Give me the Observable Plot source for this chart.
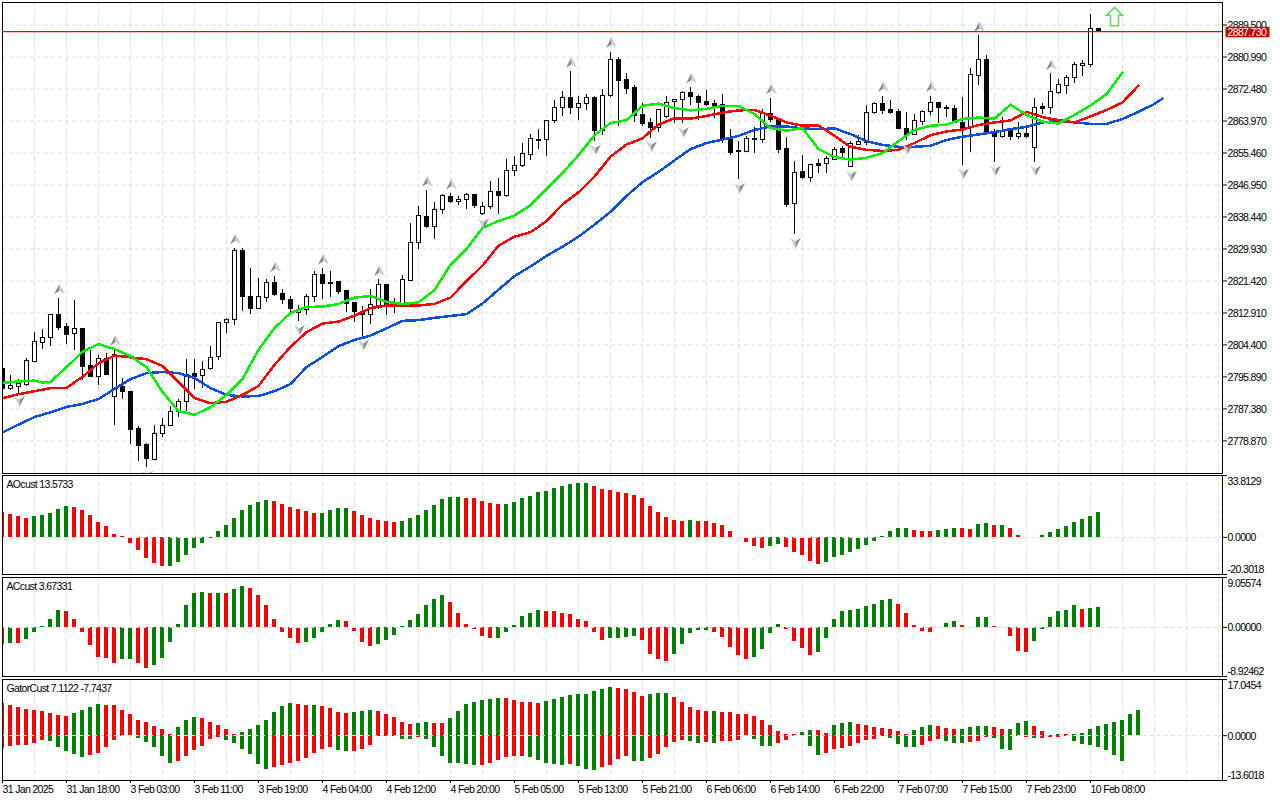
<!DOCTYPE html>
<html>
<head>
<meta charset="utf-8">
<script src="https://cdn.jsdelivr.net/npm/d3@7"></script>
<script src="https://cdn.jsdelivr.net/npm/@observablehq/plot@0.6"></script>
<style>
html,body{margin:0;padding:0;background:#fff;width:1280px;height:800px;overflow:hidden}
#chart{position:relative;width:1280px;height:800px}
#chart svg{position:absolute;left:0;overflow:visible;background:transparent}
#chart svg text{letter-spacing:-.65px}
</style>
</head>
<body>
<div id="chart"></div>
<script>
// ----- candles (hourly bars, oldest first) -----
const opens = [
2797.9,2792.8,2793.3,2793.8,2799.9,2805.0,2806.2,2812.3,2809.1,2807.2,
2808.6,2798.8,2796.0,2800.6,2790.6,2793.1,2791.9,2782.0,2777.8,2773.9,
2780.6,2782.8,2786.5,2789.1,2796.6,2796.1,2797.9,2801.1,2810.2,2811.0,
2829.3,2817.1,2813.9,2817.0,2820.8,2817.9,2816.4,2812.9,2813.6,2817.2,
2822.9,2820.9,2821.1,2818.7,2815.6,2813.2,2812.4,2814.8,2820.3,2815.0,
2815.2,2821.5,2831.4,2838.4,2835.7,2840.2,2843.7,2842.3,2842.9,2844.3,
2839.3,2841.0,2845.0,2844.1,2850.6,2851.9,2854.8,2858.9,2858.8,2863.9,
2867.3,2870.0,2867.5,2868.4,2870.0,2861.3,2870.5,2880.1,2874.8,2872.7,
2865.5,2863.4,2862.2,2865.0,2868.9,2869.5,2871.3,2870.3,2868.9,2868.5,
2868.2,2858.9,2856.0,2855.8,2859.3,2859.0,2865.8,2864.2,2856.4,2841.8,
2850.3,2848.7,2852.4,2852.4,2853.7,2856.5,2851.6,2857.7,2858.2,2866.0,
2868.4,2866.8,2866.3,2861.8,2860.3,2863.8,2866.3,2868.7,2867.5,2867.1,
2863.4,2862.2,2876.0,2880.1,2860.7,2859.8,2861.2,2859.8,2860.4,2856.7,
2867.6,2867.5,2871.5,2873.4,2875.3,2878.7,2878.9,2888.4];
const highs = [
2798.5,2796.4,2795.1,2800.7,2807.8,2808.4,2812.3,2816.8,2810.2,2816.1,
2808.8,2802.9,2801.7,2802.2,2803.1,2795.5,2792.1,2782.6,2778.2,2783.1,
2784.9,2788.0,2789.8,2800.4,2800.6,2799.9,2804.1,2810.4,2811.5,2830.1,
2830.1,2824.8,2822.1,2821.7,2822.7,2819.2,2817.2,2814.8,2817.7,2824.0,
2824.7,2823.9,2821.3,2819.0,2815.8,2814.6,2819.2,2821.7,2820.4,2816.8,
2822.9,2836.8,2841.2,2845.4,2842.4,2844.5,2844.7,2843.8,2844.7,2844.5,
2842.3,2848.0,2848.7,2853.6,2854.5,2857.9,2860.5,2861.8,2864.2,2869.5,
2871.9,2877.1,2870.4,2870.9,2870.4,2872.4,2882.3,2880.8,2876.6,2873.3,
2868.7,2864.7,2867.1,2870.6,2869.8,2871.8,2872.9,2870.7,2872.1,2869.5,
2871.1,2861.6,2858.4,2859.8,2862.3,2866.9,2870.0,2864.7,2859.6,2853.1,
2854.7,2852.5,2853.6,2854.4,2857.0,2857.1,2858.4,2860.2,2868.2,2868.9,
2870.6,2869.5,2866.9,2866.1,2865.6,2866.7,2870.6,2868.9,2868.0,2868.0,
2870.3,2878.0,2886.6,2881.3,2861.6,2865.0,2861.8,2863.6,2862.9,2870.0,
2868.6,2876.5,2874.9,2876.0,2879.5,2880.0,2892.4,2888.4];
const lows = [
2792.4,2792.4,2791.6,2793.3,2799.7,2803.1,2804.1,2808.2,2804.6,2802.9,
2794.9,2795.8,2793.7,2796.2,2782.9,2789.8,2777.8,2773.3,2771.7,2773.6,
2779.7,2782.8,2785.1,2786.6,2792.6,2792.9,2797.7,2800.2,2807.4,2809.7,
2813.2,2812.4,2813.7,2815.6,2817.4,2815.2,2812.6,2810.6,2812.3,2815.6,
2816.5,2817.1,2817.8,2813.0,2810.5,2806.6,2809.8,2813.9,2812.2,2812.8,
2814.8,2821.3,2829.7,2835.4,2832.5,2839.0,2842.1,2841.4,2840.5,2840.7,
2838.8,2840.3,2839.2,2843.6,2849.3,2851.6,2853.4,2856.5,2854.5,2863.2,
2865.1,2865.6,2864.2,2866.7,2858.5,2860.2,2870.3,2862.6,2870.9,2863.5,
2862.5,2859.4,2860.9,2864.7,2863.4,2863.2,2868.0,2864.0,2867.8,2864.7,
2857.9,2854.7,2848.3,2855.5,2855.2,2858.0,2863.7,2855.2,2841.0,2833.7,
2848.5,2847.7,2849.9,2849.9,2853.4,2854.3,2851.5,2857.4,2857.4,2865.6,
2865.8,2865.8,2861.6,2858.7,2860.2,2862.9,2865.5,2863.2,2864.8,2863.2,
2852.1,2855.7,2873.3,2860.2,2852.9,2859.3,2858.7,2859.0,2859.2,2852.9,
2865.6,2865.6,2871.1,2871.0,2874.0,2875.7,2878.3,2887.7];
const closes = [
2792.8,2793.5,2794.0,2800.0,2805.1,2806.2,2812.3,2809.0,2807.1,2808.6,
2798.6,2796.0,2800.6,2796.4,2801.7,2792.0,2781.8,2777.6,2774.1,2780.6,
2782.8,2786.5,2789.1,2796.4,2795.8,2797.8,2800.8,2810.2,2811.0,2829.3,
2817.1,2813.9,2817.1,2820.8,2817.7,2816.4,2814.0,2813.7,2817.2,2822.9,
2820.7,2820.6,2818.6,2815.4,2813.2,2812.4,2815.0,2820.3,2814.6,2815.3,
2821.6,2831.4,2838.6,2835.7,2840.2,2843.9,2842.3,2842.9,2844.2,2841.4,
2841.0,2845.0,2844.1,2850.6,2851.9,2855.1,2859.1,2858.7,2863.9,2867.3,
2870.0,2867.5,2868.4,2870.0,2861.3,2870.5,2880.1,2874.7,2872.6,2865.4,
2863.2,2862.2,2866.8,2868.8,2869.5,2871.3,2870.4,2868.8,2868.2,2868.0,
2858.9,2855.5,2855.6,2859.1,2859.0,2865.8,2864.2,2856.3,2841.6,2850.2,
2848.7,2852.2,2852.1,2853.8,2856.2,2855.5,2857.9,2858.3,2866.0,2868.4,
2866.7,2866.2,2861.8,2860.2,2863.9,2866.3,2868.7,2867.3,2867.2,2863.4,
2862.1,2876.1,2880.1,2860.9,2859.7,2861.0,2859.7,2860.4,2859.7,2867.3,
2867.2,2871.6,2873.5,2875.4,2878.8,2879.1,2888.4,2887.73];

// ----- alligator lines (bar index, price) -----
const jawBars = d3.range(0, 145, 2).concat(145);
const jaw = [
2781.1,2783.2,2785.2,2786.5,2787.9,2788.7,2790.0,2792.7,2795.3,2796.9,
2797.2,2796.9,2795.6,2792.9,2791.1,2790.7,2790.8,2792.1,2794.0,2798.5,
2801.2,2804.1,2805.7,2806.9,2808.8,2810.8,2811.0,2811.6,2812.1,2812.6,
2815.4,2819.1,2822.7,2825.3,2828.1,2830.5,2833.2,2836.4,2839.8,2844.0,
2847.7,2850.4,2853.5,2856.5,2858.1,2859.0,2860.0,2861.6,2862.5,2862.5,
2862.0,2861.8,2862.0,2860.5,2858.6,2857.6,2857.1,2857.1,2857.4,2858.9,
2859.8,2860.4,2861.0,2861.8,2862.4,2863.6,2864.0,2863.6,2863.2,2863.2,
2864.5,2866.4,2868.5,2869.9];
const teethBars = d3.range(0, 143, 2);
const teeth = [
2790.2,2791.3,2792.1,2792.9,2793.0,2795.9,2799.5,2801.6,2801.1,2800.6,
2798.8,2794.5,2790.3,2788.9,2789.3,2791.1,2793.5,2799.1,2803.9,2807.8,
2810.1,2810.6,2812.2,2814.2,2814.9,2814.8,2814.9,2815.3,2817.0,2821.4,
2825.5,2830.8,2833.2,2834.4,2837.3,2841.8,2845.0,2849.2,2854.5,2857.7,
2859.4,2863.0,2864.7,2864.6,2865.3,2866.2,2866.8,2866.9,2865.4,2863.6,
2862.7,2862.8,2860.0,2857.1,2856.3,2856.0,2856.3,2858.1,2860.2,2861.2,
2861.7,2862.9,2863.6,2864.1,2866.4,2865.0,2864.2,2863.6,2865.2,2866.9,
2868.9,2873.4];
const lipsBars = [0, 2, 4, 5, 6].concat(d3.range(8, 141, 2));
const lips = [
2794.3,2794.7,2794.9,2794.4,2794.6,
2798.5,2802.6,2804.6,2803.3,2801.4,2798.5,2791.9,2786.8,2785.8,2787.8,
2791.1,2795.3,2803.1,2808.9,2812.9,2814.5,2814.6,2815.3,2817.0,2817.4,
2815.9,2815.3,2815.7,2819.0,2825.7,2829.9,2835.5,2837.4,2838.8,2841.6,
2845.9,2850.1,2854.9,2860.2,2863.4,2864.2,2868.0,2868.6,2867.4,2866.8,
2867.2,2868.0,2868.0,2865.8,2862.1,2861.4,2862.1,2856.5,2854.4,2853.7,
2854.2,2855.4,2858.6,2861.6,2862.7,2863.0,2864.5,2864.9,2864.6,2868.3,
2865.6,2863.8,2863.3,2865.6,2868.1,2871.1,2876.9];

// ----- fractal and signal markers (bar index) -----
const fractalUp = [7,14,29,34,40,47,53,56,71,76,86,96,110,116,122,131];
const fractalDown = [2,18,37,45,60,74,81,85,92,99,106,113,120,124,129];
const signalBar = 139, signalPrice = 2891.8;
const lastPrice = 2887.73;

// ----- oscillators -----
const aoValues = [
13.8,12.7,11.2,10.5,11.2,11.8,13.3,15.5,16.8,16.2,
14.5,11.8,7.9,5.7,1.7,0.4,-3.3,-7.2,-11.6,-14.4,
-16.0,-16.0,-13.8,-9.9,-6.1,-3.3,-0.4,3.0,6.3,10.1,
14.5,17.3,18.8,20.1,19.5,17.9,16.2,15.1,14.0,13.3,
13.3,14.5,15.7,15.7,14.0,11.8,10.1,9.0,8.5,7.9,
8.5,10.1,11.8,14.5,17.3,20.6,21.7,21.7,21.2,21.2,
19.5,18.4,17.9,17.9,19.0,21.2,22.3,24.5,25.0,26.7,
27.8,28.7,29.3,29.3,27.8,26.0,25.4,24.3,23.9,22.8,
21.0,17.1,13.8,11.0,9.4,8.8,9.4,8.8,8.8,7.7,
6.6,3.3,-0.2,-2.8,-5.0,-6.1,-5.0,-3.9,-5.5,-8.3,
-9.9,-13.3,-14.9,-13.8,-11.0,-9.9,-8.3,-6.6,-4.4,-2.2,
0.6,3.3,5.0,5.0,3.9,3.3,3.3,3.9,4.4,5.0,
5.0,4.4,7.2,7.7,6.6,6.6,5.0,1.1,-0.2,-0.1,
1.1,2.8,4.4,6.1,8.3,9.9,11.6,13.57];
const aoRuns = [4,5,12,13,6,4,6,8,5,11,12,1,9,2,5,11,3,3,2,2,1,1,3,9];
const acValues = [
-3.1,-2.9,-2.9,-2.2,-1.0,0.2,1.5,3.1,2.8,1.5,
-0.9,-3.3,-5.4,-5.6,-6.5,-5.8,-5.8,-6.5,-7.5,-6.9,
-5.6,-2.7,0.6,4.0,6.1,6.4,6.2,6.2,6.1,6.8,
7.5,7.0,5.7,4.0,1.5,-0.9,-2.1,-2.9,-2.7,-2.0,
-0.9,0.6,1.3,1.1,-0.7,-2.7,-3.4,-3.1,-2.3,-1.4,
0.1,1.3,2.4,4.0,5.0,5.7,4.6,2.6,0.6,-0.3,
-1.6,-2.0,-2.0,-0.9,0.4,2.0,2.6,3.1,2.8,2.8,
2.6,2.4,1.5,1.1,-0.9,-2.3,-2.1,-2.1,-1.8,-1.6,
-2.3,-4.9,-5.8,-6.2,-4.9,-3.2,-1.2,-0.5,-0.5,-1.0,
-1.8,-3.6,-5.1,-5.8,-5.4,-4.0,-1.2,0.6,-0.4,-2.5,
-3.8,-5.1,-4.5,-2.0,1.5,2.8,3.1,3.3,3.7,4.2,
4.8,5.1,4.2,2.6,0.4,-0.7,-0.9,-0.1,0.7,1.1,
0.4,-0.1,1.8,1.8,0.2,-0.1,-1.7,-4.4,-4.6,-2.5,
-0.3,1.8,2.9,3.1,3.9,3.3,3.5,3.67];
const acRuns = [1,1,1,5,7,2,2,7,1,1,1,2,7,5,4,9,6,6,8,4,4,5,5,4,4,10,5,3,2,2,5,6,1,2];
const gatorUpper = [
9.7,9.1,8.5,7.8,7.5,7.2,6.6,6.0,5.7,6.6,
7.5,8.5,9.4,9.1,9.1,7.5,6.3,4.7,4.1,2.9,
2.0,0.4,2.6,4.7,5.4,5.1,4.1,3.2,2.0,0.4,
1.0,2.0,3.2,4.7,6.9,8.8,9.7,9.4,9.1,9.1,
8.8,8.2,6.9,6.6,6.9,7.2,7.5,7.2,6.3,5.4,
4.1,3.5,3.8,4.1,3.8,3.8,5.1,7.2,9.4,10.0,
10.6,10.9,11.2,11.2,10.6,10.0,10.0,9.7,10.3,10.9,
11.6,12.2,12.5,12.5,13.4,14.0,14.7,14.3,14.0,13.1,
11.9,12.5,12.8,12.8,11.6,10.0,8.5,7.5,7.2,7.2,
6.9,6.9,6.3,6.3,5.7,4.7,3.2,1.3,0.4,0.4,
1.0,1.7,1.7,0.7,3.2,3.8,4.1,3.5,3.2,2.6,
2.3,2.0,1.3,0.4,1.7,2.6,3.2,2.9,2.3,2.0,
2.0,2.6,2.9,2.9,2.6,2.0,2.0,3.8,4.4,2.9,
1.3,0.1,0.4,0.4,0.4,0.7,2.0,2.9,3.5,4.1,
4.7,6.3,7.53];
const gatorUpperRuns = [9,4,9,3,5,7,2,1,4,3,5,2,2,7,5,9,4,3,5,1,10,2,2,3,7,3,3,4,2,3,3,1,1,9];
const gatorLower = [
-3.9,-3.3,-3.0,-3.0,-2.4,-1.4,-1.8,-3.6,-4.9,-5.8,
-6.7,-6.1,-5.5,-3.6,-1.4,-0.2,-0.2,-0.8,-2.1,-3.6,
-6.4,-8.3,-7.9,-6.4,-4.5,-3.3,-1.1,-0.5,-1.4,-2.4,
-4.2,-5.8,-8.6,-10.4,-9.8,-8.9,-8.3,-7.9,-7.0,-5.5,
-4.2,-3.6,-4.5,-4.9,-4.9,-4.2,-3.0,-0.2,-0.2,-0.2,
-1.1,-1.1,-0.5,-1.1,-3.6,-6.4,-8.3,-8.3,-8.6,-9.2,
-8.9,-8.3,-7.6,-6.7,-6.4,-6.4,-6.7,-7.6,-8.3,-8.6,
-8.9,-8.6,-9.5,-10.4,-10.7,-9.8,-8.9,-7.3,-6.4,-7.9,
-7.9,-7.0,-5.8,-3.6,-2.1,-1.4,-1.8,-2.4,-2.1,-2.4,
-1.8,-1.8,-1.4,-0.2,-1.1,-3.3,-3.3,-2.4,-1.4,-0.2,
-0.2,-3.3,-6.1,-5.5,-4.2,-3.9,-3.3,-2.4,-1.4,-1.1,
-0.2,-0.8,-2.7,-3.6,-3.6,-3.0,-1.8,-1.1,-1.8,-2.4,
-2.4,-2.1,-1.8,-0.5,-0.8,-4.2,-4.5,-0.3,-0.6,-0.8,
-0.8,-0.7,-0.7,-0.2,-1.9,-2.7,-3.0,-3.7,-4.5,-6.1,
-7.74];
const gatorLowerRuns = [6,5,6,5,6,6,8,2,4,4,1,7,6,5,1,3,4,2,5,2,1,1,4,3,4,2,7,5,3,3,3,3,2,1,4,7];

// ----- axis labels -----
const priceTicks = [2889.5,2880.99,2872.48,2863.97,2855.46,2846.95,2838.44,2829.93,2821.42,2812.91,2804.4,2795.89,2787.38,2778.87];
const timeLabels = ["31 Jan 2025","31 Jan 18:00","3 Feb 03:00","3 Feb 11:00","3 Feb 19:00","4 Feb 04:00","4 Feb 12:00","4 Feb 20:00","5 Feb 05:00","5 Feb 13:00","5 Feb 21:00","6 Feb 06:00","6 Feb 14:00","6 Feb 22:00","7 Feb 07:00","7 Feb 15:00","7 Feb 23:00","10 Feb 08:00"];
const timeTickBars = timeLabels.map((_, i) => i * 8);
const gridBars = d3.range(4, 153, 4);
const xDomain = [0, 152.5];
const priceDomain = [2770.2, 2895.49];

// ----- colours -----
const GRID = "#dfdfdf", UP = "#008000", DOWN = "#ff0000", FONT = "'Liberation Sans', Arial, sans-serif";
const dash = "4,3";

const candles = opens.map((o, i) => ({i, o, h: highs[i], l: lows[i], c: closes[i], up: closes[i] >= o}));

function expandRuns(runs) {
  const out = [];
  runs.forEach((n, r) => { for (let j = 0; j < n; j++) out.push(r % 2 ? UP : DOWN); });
  return out;
}
function bars(values, runs) {
  const colours = expandRuns(runs);
  return values.map((v, i) => ({i, v, colour: colours[i]}));
}

// custom marker shapes
const sym = (pts) => ({draw(ctx) { pts.forEach((p, j) => j ? ctx.lineTo(p[0], p[1]) : ctx.moveTo(p[0], p[1])); ctx.closePath(); }});
const upL = sym([[0,-5.5],[0,1.5],[-5.5,5]]), upR = sym([[0,-5.5],[5.5,5],[0,1.5]]);
const dnL = sym([[0,5.5],[0,-1.5],[-5.5,-5]]), dnR = sym([[0,5.5],[5.5,-5],[0,-1.5]]);
const signalArrow = sym([[0,-9],[8,-1],[4,-1],[4,9.5],[-4,9.5],[-4,-1],[-8,-1]]);
const tagBox = sym([[-22,-5],[22,-5],[22,5.5],[-22,5.5]]);

const chart = document.getElementById("chart");
function place(svg, top) { svg.style.top = top + "px"; chart.appendChild(svg); }
const commonStyle = {fontFamily: FONT, fontSize: "10.5px", background: "transparent"};

// ----- main price panel -----
const up = candles.filter(d => fractalUp.includes(d.i));
const dn = candles.filter(d => fractalDown.includes(d.i));
const line = (xs, ys, stroke) => Plot.line(xs.map((x, i) => [x, ys[i]]), {x: d => d[0], y: d => d[1], stroke, strokeWidth: 2.5, curve: "linear", clip: "frame", shapeRendering: "crispEdges"});
const mainMarks = [
  Plot.gridX(gridBars, {stroke: GRID, strokeOpacity: 1, strokeDasharray: dash}),
  Plot.gridY(priceTicks, {stroke: GRID, strokeOpacity: 1, strokeDasharray: dash}),
  Plot.ruleX(candles, {x: "i", y1: "l", y2: "h", stroke: "#000", strokeWidth: 1, shapeRendering: "crispEdges"}),
  Plot.rect(candles, {x1: d => d.i - 0.25, x2: d => d.i + 0.25, y1: "o", y2: "c", fill: d => d.up ? "#fff" : "#000", stroke: "#000", strokeWidth: 1, shapeRendering: "crispEdges", clip: "frame"}),
  line(jawBars, jaw, "#0a50dc"),
  line(teethBars, teeth, "#ff0000"),
  line(lipsBars, lips, "#00f000"),
  Plot.dot(up, {x: "i", y: "h", dx: 1, dy: -9, symbol: upL, r: 1, fill: "#8a8a86", clip: "frame"}),
  Plot.dot(up, {x: "i", y: "h", dx: 1, dy: -9, symbol: upR, r: 1, fill: "#c4ccd6", clip: "frame"}),
  Plot.dot(dn, {x: "i", y: "l", dx: 1, dy: 8, symbol: dnL, r: 1, fill: "#c4ccd6", clip: "frame"}),
  Plot.dot(dn, {x: "i", y: "l", dx: 1, dy: 8, symbol: dnR, r: 1, fill: "#8a8a86", clip: "frame"}),
  Plot.dot([signalPrice], {x: () => signalBar, y: d => d, symbol: signalArrow, r: 1, fill: "#fff", stroke: "#62d862", strokeWidth: 1.5}),
  Plot.frame({stroke: "#000", strokeWidth: 1, shapeRendering: "crispEdges"}),
  Plot.axisY({anchor: "right", ticks: priceTicks, tickSize: 4, text: null, label: null}),
  Plot.text(priceTicks, {y: d => d, frameAnchor: "right", dx: 5, dy: 1, textAnchor: "start", text: d => d.toFixed(3), fill: "#000"}),
  Plot.ruleY([lastPrice], {stroke: "#ff0000", strokeWidth: 1.4}),
  Plot.dot([lastPrice], {y: d => d, frameAnchor: "right", dx: 25, symbol: tagBox, r: 1, fill: "#c80000"}),
  Plot.text([lastPrice], {y: d => d, frameAnchor: "right", dx: 5, dy: 0.5, textAnchor: "start", text: d => d.toFixed(3), fill: "#fff"})
];
place(Plot.plot({
  width: 1280, height: 472, marginLeft: 2, marginRight: 58, marginTop: 0, marginBottom: 1,
  style: commonStyle,
  x: {domain: xDomain, axis: null},
  y: {domain: priceDomain, axis: null},
  marks: mainMarks
}), 2);

// ----- oscillator panels -----
function panel({top, height, marginBottom = 1, title, domain, decimals, series, extra = []}) {
  const [lo, hi] = domain;
  const fmt = d => d.toFixed(decimals);
  const rects = series.map(s => Plot.rect(s, {x1: d => d.i - 0.25, x2: d => d.i + 0.25, y1: 0, y2: "v", fill: "colour", shapeRendering: "crispEdges", clip: "frame"}));
  const plot = Plot.plot({
    width: 1280, height, marginLeft: 2, marginRight: 58, marginTop: 0, marginBottom,
    style: commonStyle,
    x: {domain: xDomain, axis: null},
    y: {domain, axis: null},
    marks: [
      Plot.gridX(gridBars, {stroke: GRID, strokeOpacity: 1, strokeDasharray: dash}),
      ...rects,
      Plot.ruleY([0], {stroke: GRID, strokeDasharray: dash, strokeWidth: 1, shapeRendering: "crispEdges"}),
      Plot.frame({stroke: "#000", strokeWidth: 1, shapeRendering: "crispEdges"}),
      Plot.axisY({anchor: "right", ticks: [lo, 0, hi], tickSize: 4, text: null, label: null}),
      Plot.text([hi], {y: d => d, frameAnchor: "right", dx: 5, dy: 6, textAnchor: "start", text: fmt, fill: "#000"}),
      Plot.text([0], {y: d => d, frameAnchor: "right", dx: 5, dy: 0.5, textAnchor: "start", text: fmt, fill: "#000"}),
      Plot.text([lo], {y: d => d, frameAnchor: "right", dx: 5, dy: -5, textAnchor: "start", text: fmt, fill: "#000"}),
      Plot.text([title], {frameAnchor: "top-left", dx: 4, dy: 5, text: d => d, textAnchor: "start", fill: "#000"}),
      ...extra
    ]
  });
  place(plot, top);
}
panel({top: 475, height: 100, title: "AOcust 13.5733", domain: [-20.3018, 33.8129], decimals: 4, series: [bars(aoValues, aoRuns)]});
panel({top: 577, height: 100, title: "ACcust 3.67331", domain: [-8.92462, 9.05574], decimals: 5, series: [bars(acValues, acRuns)]});
panel({top: 679, height: 121, marginBottom: 20, title: "GatorCust 7.1122 -7.7437", domain: [-13.6018, 17.0454], decimals: 4,
  series: [bars(gatorUpper, gatorUpperRuns), bars(gatorLower, gatorLowerRuns)],
  extra: [Plot.axisX({anchor: "bottom", ticks: timeTickBars, tickFormat: d => timeLabels[d / 8], tickSize: 3, tickPadding: 2, textAnchor: "start", label: null})]
});
</script>
</body>
</html>
